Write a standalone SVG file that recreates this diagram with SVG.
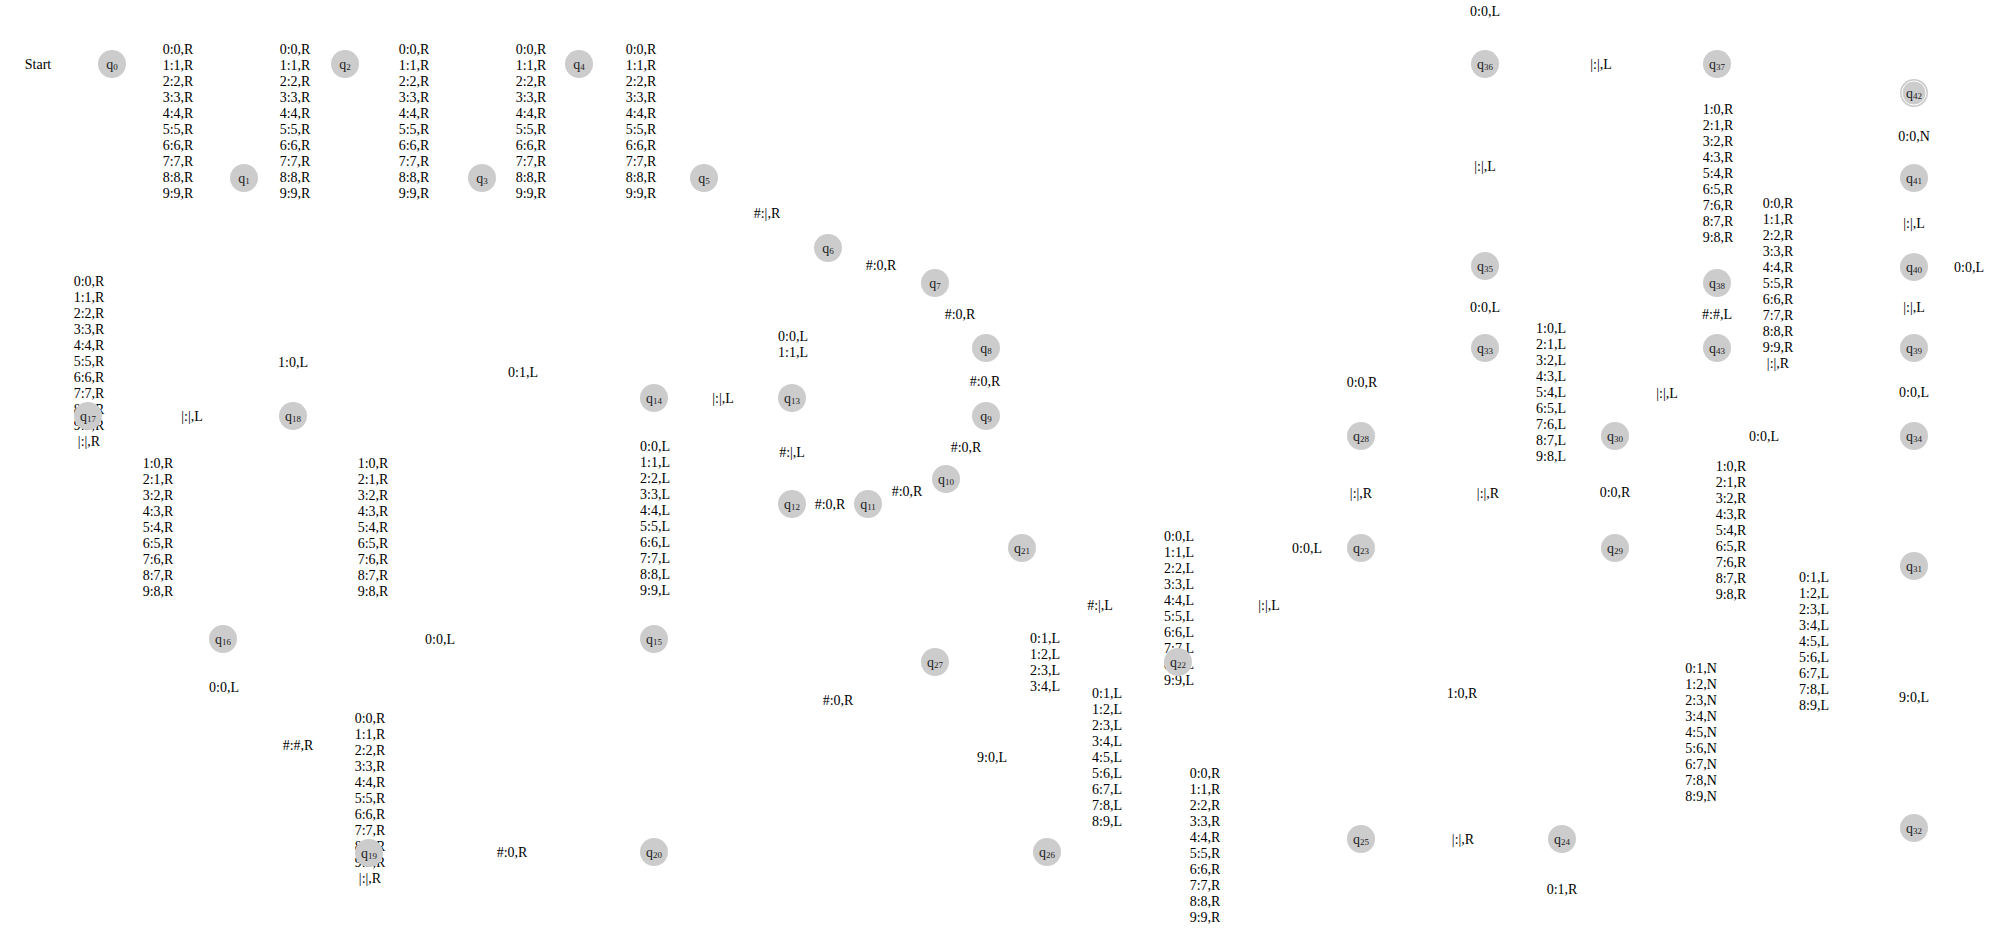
<svg xmlns="http://www.w3.org/2000/svg" width="1996" height="935" viewBox="0 0 1996 935">
<style>
text{font-family:"Liberation Serif","Times New Roman",serif;font-size:14px;fill:#000;text-anchor:middle}
.n circle{fill:#cccccc}
.n text{font-size:14px;fill:#222}
.s{font-size:9px}
.ring{fill:none;stroke:#fff;stroke-width:1}
</style>
<rect width="1996" height="935" fill="#fff"/>
<g id="connectors"></g>
<g id="labels">
<text x="38" y="69">Start</text>
<text x="178" y="54"><tspan x="178">0:0,R</tspan><tspan x="178" dy="16">1:1,R</tspan><tspan x="178" dy="16">2:2,R</tspan><tspan x="178" dy="16">3:3,R</tspan><tspan x="178" dy="16">4:4,R</tspan><tspan x="178" dy="16">5:5,R</tspan><tspan x="178" dy="16">6:6,R</tspan><tspan x="178" dy="16">7:7,R</tspan><tspan x="178" dy="16">8:8,R</tspan><tspan x="178" dy="16">9:9,R</tspan></text>
<text x="295" y="54"><tspan x="295">0:0,R</tspan><tspan x="295" dy="16">1:1,R</tspan><tspan x="295" dy="16">2:2,R</tspan><tspan x="295" dy="16">3:3,R</tspan><tspan x="295" dy="16">4:4,R</tspan><tspan x="295" dy="16">5:5,R</tspan><tspan x="295" dy="16">6:6,R</tspan><tspan x="295" dy="16">7:7,R</tspan><tspan x="295" dy="16">8:8,R</tspan><tspan x="295" dy="16">9:9,R</tspan></text>
<text x="414" y="54"><tspan x="414">0:0,R</tspan><tspan x="414" dy="16">1:1,R</tspan><tspan x="414" dy="16">2:2,R</tspan><tspan x="414" dy="16">3:3,R</tspan><tspan x="414" dy="16">4:4,R</tspan><tspan x="414" dy="16">5:5,R</tspan><tspan x="414" dy="16">6:6,R</tspan><tspan x="414" dy="16">7:7,R</tspan><tspan x="414" dy="16">8:8,R</tspan><tspan x="414" dy="16">9:9,R</tspan></text>
<text x="531" y="54"><tspan x="531">0:0,R</tspan><tspan x="531" dy="16">1:1,R</tspan><tspan x="531" dy="16">2:2,R</tspan><tspan x="531" dy="16">3:3,R</tspan><tspan x="531" dy="16">4:4,R</tspan><tspan x="531" dy="16">5:5,R</tspan><tspan x="531" dy="16">6:6,R</tspan><tspan x="531" dy="16">7:7,R</tspan><tspan x="531" dy="16">8:8,R</tspan><tspan x="531" dy="16">9:9,R</tspan></text>
<text x="641" y="54"><tspan x="641">0:0,R</tspan><tspan x="641" dy="16">1:1,R</tspan><tspan x="641" dy="16">2:2,R</tspan><tspan x="641" dy="16">3:3,R</tspan><tspan x="641" dy="16">4:4,R</tspan><tspan x="641" dy="16">5:5,R</tspan><tspan x="641" dy="16">6:6,R</tspan><tspan x="641" dy="16">7:7,R</tspan><tspan x="641" dy="16">8:8,R</tspan><tspan x="641" dy="16">9:9,R</tspan></text>
<text x="767" y="218">#:|,R</text>
<text x="881" y="270">#:0,R</text>
<text x="960" y="319">#:0,R</text>
<text x="985" y="386">#:0,R</text>
<text x="966" y="452">#:0,R</text>
<text x="907" y="496">#:0,R</text>
<text x="830" y="509">#:0,R</text>
<text x="792" y="457">#:|,L</text>
<text x="793" y="341"><tspan x="793">0:0,L</tspan><tspan x="793" dy="16">1:1,L</tspan></text>
<text x="723" y="403">|:|,L</text>
<text x="523" y="377">0:1,L</text>
<text x="293" y="367">1:0,L</text>
<text x="192" y="421">|:|,L</text>
<text x="89" y="286"><tspan x="89">0:0,R</tspan><tspan x="89" dy="16">1:1,R</tspan><tspan x="89" dy="16">2:2,R</tspan><tspan x="89" dy="16">3:3,R</tspan><tspan x="89" dy="16">4:4,R</tspan><tspan x="89" dy="16">5:5,R</tspan><tspan x="89" dy="16">6:6,R</tspan><tspan x="89" dy="16">7:7,R</tspan><tspan x="89" dy="16">8:8,R</tspan><tspan x="89" dy="16">9:9,R</tspan><tspan x="89" dy="16">|:|,R</tspan></text>
<text x="158" y="468"><tspan x="158">1:0,R</tspan><tspan x="158" dy="16">2:1,R</tspan><tspan x="158" dy="16">3:2,R</tspan><tspan x="158" dy="16">4:3,R</tspan><tspan x="158" dy="16">5:4,R</tspan><tspan x="158" dy="16">6:5,R</tspan><tspan x="158" dy="16">7:6,R</tspan><tspan x="158" dy="16">8:7,R</tspan><tspan x="158" dy="16">9:8,R</tspan></text>
<text x="373" y="468"><tspan x="373">1:0,R</tspan><tspan x="373" dy="16">2:1,R</tspan><tspan x="373" dy="16">3:2,R</tspan><tspan x="373" dy="16">4:3,R</tspan><tspan x="373" dy="16">5:4,R</tspan><tspan x="373" dy="16">6:5,R</tspan><tspan x="373" dy="16">7:6,R</tspan><tspan x="373" dy="16">8:7,R</tspan><tspan x="373" dy="16">9:8,R</tspan></text>
<text x="655" y="451"><tspan x="655">0:0,L</tspan><tspan x="655" dy="16">1:1,L</tspan><tspan x="655" dy="16">2:2,L</tspan><tspan x="655" dy="16">3:3,L</tspan><tspan x="655" dy="16">4:4,L</tspan><tspan x="655" dy="16">5:5,L</tspan><tspan x="655" dy="16">6:6,L</tspan><tspan x="655" dy="16">7:7,L</tspan><tspan x="655" dy="16">8:8,L</tspan><tspan x="655" dy="16">9:9,L</tspan></text>
<text x="440" y="644">0:0,L</text>
<text x="224" y="692">0:0,L</text>
<text x="298" y="750">#:#,R</text>
<text x="370" y="723"><tspan x="370">0:0,R</tspan><tspan x="370" dy="16">1:1,R</tspan><tspan x="370" dy="16">2:2,R</tspan><tspan x="370" dy="16">3:3,R</tspan><tspan x="370" dy="16">4:4,R</tspan><tspan x="370" dy="16">5:5,R</tspan><tspan x="370" dy="16">6:6,R</tspan><tspan x="370" dy="16">7:7,R</tspan><tspan x="370" dy="16">8:8,R</tspan><tspan x="370" dy="16">9:9,R</tspan><tspan x="370" dy="16">|:|,R</tspan></text>
<text x="512" y="857">#:0,R</text>
<text x="1100" y="610">#:|,L</text>
<text x="1179" y="541"><tspan x="1179">0:0,L</tspan><tspan x="1179" dy="16">1:1,L</tspan><tspan x="1179" dy="16">2:2,L</tspan><tspan x="1179" dy="16">3:3,L</tspan><tspan x="1179" dy="16">4:4,L</tspan><tspan x="1179" dy="16">5:5,L</tspan><tspan x="1179" dy="16">6:6,L</tspan><tspan x="1179" dy="16">7:7,L</tspan><tspan x="1179" dy="16">8:8,L</tspan><tspan x="1179" dy="16">9:9,L</tspan></text>
<text x="1269" y="610">|:|,L</text>
<text x="1307" y="553">0:0,L</text>
<text x="1361" y="498">|:|,R</text>
<text x="1362" y="387">0:0,R</text>
<text x="838" y="705">#:0,R</text>
<text x="992" y="762">9:0,L</text>
<text x="1045" y="643"><tspan x="1045">0:1,L</tspan><tspan x="1045" dy="16">1:2,L</tspan><tspan x="1045" dy="16">2:3,L</tspan><tspan x="1045" dy="16">3:4,L</tspan></text>
<text x="1107" y="698"><tspan x="1107">0:1,L</tspan><tspan x="1107" dy="16">1:2,L</tspan><tspan x="1107" dy="16">2:3,L</tspan><tspan x="1107" dy="16">3:4,L</tspan><tspan x="1107" dy="16">4:5,L</tspan><tspan x="1107" dy="16">5:6,L</tspan><tspan x="1107" dy="16">6:7,L</tspan><tspan x="1107" dy="16">7:8,L</tspan><tspan x="1107" dy="16">8:9,L</tspan></text>
<text x="1205" y="778"><tspan x="1205">0:0,R</tspan><tspan x="1205" dy="16">1:1,R</tspan><tspan x="1205" dy="16">2:2,R</tspan><tspan x="1205" dy="16">3:3,R</tspan><tspan x="1205" dy="16">4:4,R</tspan><tspan x="1205" dy="16">5:5,R</tspan><tspan x="1205" dy="16">6:6,R</tspan><tspan x="1205" dy="16">7:7,R</tspan><tspan x="1205" dy="16">8:8,R</tspan><tspan x="1205" dy="16">9:9,R</tspan></text>
<text x="1462" y="698">1:0,R</text>
<text x="1463" y="844">|:|,R</text>
<text x="1562" y="894">0:1,R</text>
<text x="1485" y="16">0:0,L</text>
<text x="1485" y="171">|:|,L</text>
<text x="1485" y="312">0:0,L</text>
<text x="1601" y="69">|:|,L</text>
<text x="1718" y="114"><tspan x="1718">1:0,R</tspan><tspan x="1718" dy="16">2:1,R</tspan><tspan x="1718" dy="16">3:2,R</tspan><tspan x="1718" dy="16">4:3,R</tspan><tspan x="1718" dy="16">5:4,R</tspan><tspan x="1718" dy="16">6:5,R</tspan><tspan x="1718" dy="16">7:6,R</tspan><tspan x="1718" dy="16">8:7,R</tspan><tspan x="1718" dy="16">9:8,R</tspan></text>
<text x="1778" y="208"><tspan x="1778">0:0,R</tspan><tspan x="1778" dy="16">1:1,R</tspan><tspan x="1778" dy="16">2:2,R</tspan><tspan x="1778" dy="16">3:3,R</tspan><tspan x="1778" dy="16">4:4,R</tspan><tspan x="1778" dy="16">5:5,R</tspan><tspan x="1778" dy="16">6:6,R</tspan><tspan x="1778" dy="16">7:7,R</tspan><tspan x="1778" dy="16">8:8,R</tspan><tspan x="1778" dy="16">9:9,R</tspan><tspan x="1778" dy="16">|:|,R</tspan></text>
<text x="1717" y="319">#:#,L</text>
<text x="1667" y="398">|:|,L</text>
<text x="1551" y="333"><tspan x="1551">1:0,L</tspan><tspan x="1551" dy="16">2:1,L</tspan><tspan x="1551" dy="16">3:2,L</tspan><tspan x="1551" dy="16">4:3,L</tspan><tspan x="1551" dy="16">5:4,L</tspan><tspan x="1551" dy="16">6:5,L</tspan><tspan x="1551" dy="16">7:6,L</tspan><tspan x="1551" dy="16">8:7,L</tspan><tspan x="1551" dy="16">9:8,L</tspan></text>
<text x="1488" y="498">|:|,R</text>
<text x="1615" y="497">0:0,R</text>
<text x="1764" y="441">0:0,L</text>
<text x="1731" y="471"><tspan x="1731">1:0,R</tspan><tspan x="1731" dy="16">2:1,R</tspan><tspan x="1731" dy="16">3:2,R</tspan><tspan x="1731" dy="16">4:3,R</tspan><tspan x="1731" dy="16">5:4,R</tspan><tspan x="1731" dy="16">6:5,R</tspan><tspan x="1731" dy="16">7:6,R</tspan><tspan x="1731" dy="16">8:7,R</tspan><tspan x="1731" dy="16">9:8,R</tspan></text>
<text x="1701" y="673"><tspan x="1701">0:1,N</tspan><tspan x="1701" dy="16">1:2,N</tspan><tspan x="1701" dy="16">2:3,N</tspan><tspan x="1701" dy="16">3:4,N</tspan><tspan x="1701" dy="16">4:5,N</tspan><tspan x="1701" dy="16">5:6,N</tspan><tspan x="1701" dy="16">6:7,N</tspan><tspan x="1701" dy="16">7:8,N</tspan><tspan x="1701" dy="16">8:9,N</tspan></text>
<text x="1814" y="582"><tspan x="1814">0:1,L</tspan><tspan x="1814" dy="16">1:2,L</tspan><tspan x="1814" dy="16">2:3,L</tspan><tspan x="1814" dy="16">3:4,L</tspan><tspan x="1814" dy="16">4:5,L</tspan><tspan x="1814" dy="16">5:6,L</tspan><tspan x="1814" dy="16">6:7,L</tspan><tspan x="1814" dy="16">7:8,L</tspan><tspan x="1814" dy="16">8:9,L</tspan></text>
<text x="1914" y="141">0:0,N</text>
<text x="1914" y="228">|:|,L</text>
<text x="1969" y="272">0:0,L</text>
<text x="1914" y="312">|:|,L</text>
<text x="1914" y="397">0:0,L</text>
<text x="1914" y="702">9:0,L</text>
</g>
<g id="q0" class="n"><circle cx="112" cy="64" r="14"/><text x="112" y="69">q<tspan class="s" dy="1">0</tspan></text></g>
<g id="q1" class="n"><circle cx="244" cy="178" r="14"/><text x="244" y="183">q<tspan class="s" dy="1">1</tspan></text></g>
<g id="q2" class="n"><circle cx="345" cy="64" r="14"/><text x="345" y="69">q<tspan class="s" dy="1">2</tspan></text></g>
<g id="q3" class="n"><circle cx="482" cy="178" r="14"/><text x="482" y="183">q<tspan class="s" dy="1">3</tspan></text></g>
<g id="q4" class="n"><circle cx="579" cy="64" r="14"/><text x="579" y="69">q<tspan class="s" dy="1">4</tspan></text></g>
<g id="q5" class="n"><circle cx="704" cy="178" r="14"/><text x="704" y="183">q<tspan class="s" dy="1">5</tspan></text></g>
<g id="q6" class="n"><circle cx="828" cy="248" r="14"/><text x="828" y="253">q<tspan class="s" dy="1">6</tspan></text></g>
<g id="q7" class="n"><circle cx="935" cy="283" r="14"/><text x="935" y="288">q<tspan class="s" dy="1">7</tspan></text></g>
<g id="q8" class="n"><circle cx="986" cy="348" r="14"/><text x="986" y="353">q<tspan class="s" dy="1">8</tspan></text></g>
<g id="q9" class="n"><circle cx="986" cy="416" r="14"/><text x="986" y="421">q<tspan class="s" dy="1">9</tspan></text></g>
<g id="q10" class="n"><circle cx="946" cy="479" r="14"/><text x="946" y="484">q<tspan class="s" dy="1">10</tspan></text></g>
<g id="q11" class="n"><circle cx="868" cy="504" r="14"/><text x="868" y="509">q<tspan class="s" dy="1">11</tspan></text></g>
<g id="q12" class="n"><circle cx="792" cy="504" r="14"/><text x="792" y="509">q<tspan class="s" dy="1">12</tspan></text></g>
<g id="q13" class="n"><circle cx="792" cy="398" r="14"/><text x="792" y="403">q<tspan class="s" dy="1">13</tspan></text></g>
<g id="q14" class="n"><circle cx="654" cy="398" r="14"/><text x="654" y="403">q<tspan class="s" dy="1">14</tspan></text></g>
<g id="q15" class="n"><circle cx="654" cy="639" r="14"/><text x="654" y="644">q<tspan class="s" dy="1">15</tspan></text></g>
<g id="q16" class="n"><circle cx="223" cy="639" r="14"/><text x="223" y="644">q<tspan class="s" dy="1">16</tspan></text></g>
<g id="q17" class="n"><circle cx="88" cy="416" r="14"/><text x="88" y="421">q<tspan class="s" dy="1">17</tspan></text></g>
<g id="q18" class="n"><circle cx="293" cy="416" r="14"/><text x="293" y="421">q<tspan class="s" dy="1">18</tspan></text></g>
<g id="q19" class="n"><circle cx="369" cy="853" r="14"/><text x="369" y="858">q<tspan class="s" dy="1">19</tspan></text></g>
<g id="q20" class="n"><circle cx="654" cy="852" r="14"/><text x="654" y="857">q<tspan class="s" dy="1">20</tspan></text></g>
<g id="q21" class="n"><circle cx="1022" cy="548" r="14"/><text x="1022" y="553">q<tspan class="s" dy="1">21</tspan></text></g>
<g id="q22" class="n"><circle cx="1178" cy="662" r="14"/><text x="1178" y="667">q<tspan class="s" dy="1">22</tspan></text></g>
<g id="q23" class="n"><circle cx="1361" cy="548" r="14"/><text x="1361" y="553">q<tspan class="s" dy="1">23</tspan></text></g>
<g id="q24" class="n"><circle cx="1562" cy="839" r="14"/><text x="1562" y="844">q<tspan class="s" dy="1">24</tspan></text></g>
<g id="q25" class="n"><circle cx="1361" cy="839" r="14"/><text x="1361" y="844">q<tspan class="s" dy="1">25</tspan></text></g>
<g id="q26" class="n"><circle cx="1047" cy="852" r="14"/><text x="1047" y="857">q<tspan class="s" dy="1">26</tspan></text></g>
<g id="q27" class="n"><circle cx="935" cy="662" r="14"/><text x="935" y="667">q<tspan class="s" dy="1">27</tspan></text></g>
<g id="q28" class="n"><circle cx="1361" cy="436" r="14"/><text x="1361" y="441">q<tspan class="s" dy="1">28</tspan></text></g>
<g id="q29" class="n"><circle cx="1615" cy="548" r="14"/><text x="1615" y="553">q<tspan class="s" dy="1">29</tspan></text></g>
<g id="q30" class="n"><circle cx="1615" cy="436" r="14"/><text x="1615" y="441">q<tspan class="s" dy="1">30</tspan></text></g>
<g id="q31" class="n"><circle cx="1914" cy="566" r="14"/><text x="1914" y="571">q<tspan class="s" dy="1">31</tspan></text></g>
<g id="q32" class="n"><circle cx="1914" cy="828" r="14"/><text x="1914" y="833">q<tspan class="s" dy="1">32</tspan></text></g>
<g id="q33" class="n"><circle cx="1485" cy="348" r="14"/><text x="1485" y="353">q<tspan class="s" dy="1">33</tspan></text></g>
<g id="q34" class="n"><circle cx="1914" cy="436" r="14"/><text x="1914" y="441">q<tspan class="s" dy="1">34</tspan></text></g>
<g id="q35" class="n"><circle cx="1485" cy="266" r="14"/><text x="1485" y="271">q<tspan class="s" dy="1">35</tspan></text></g>
<g id="q36" class="n"><circle cx="1485" cy="64" r="14"/><text x="1485" y="69">q<tspan class="s" dy="1">36</tspan></text></g>
<g id="q37" class="n"><circle cx="1717" cy="64" r="14"/><text x="1717" y="69">q<tspan class="s" dy="1">37</tspan></text></g>
<g id="q38" class="n"><circle cx="1717" cy="283" r="14"/><text x="1717" y="288">q<tspan class="s" dy="1">38</tspan></text></g>
<g id="q39" class="n"><circle cx="1914" cy="348" r="14"/><text x="1914" y="353">q<tspan class="s" dy="1">39</tspan></text></g>
<g id="q40" class="n"><circle cx="1914" cy="267" r="14"/><text x="1914" y="272">q<tspan class="s" dy="1">40</tspan></text></g>
<g id="q41" class="n"><circle cx="1914" cy="178" r="14"/><text x="1914" y="183">q<tspan class="s" dy="1">41</tspan></text></g>
<g id="q42" class="n"><circle cx="1914" cy="93" r="14"/><circle class="ring" cx="1914" cy="93" r="12"/><text x="1914" y="98">q<tspan class="s" dy="1">42</tspan></text></g>
<g id="q43" class="n"><circle cx="1717" cy="348" r="14"/><text x="1717" y="353">q<tspan class="s" dy="1">43</tspan></text></g>
</svg>
